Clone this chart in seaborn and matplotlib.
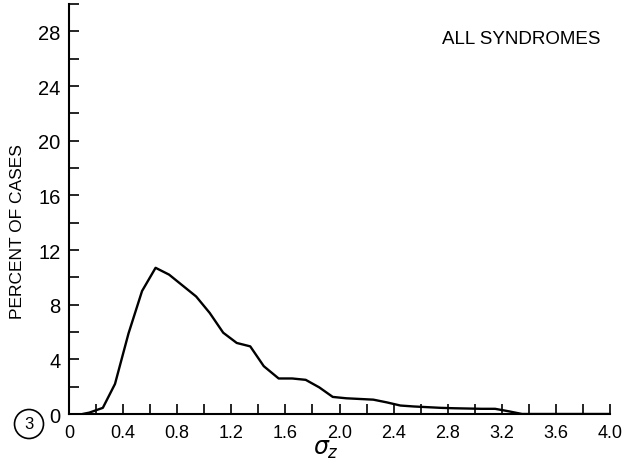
import matplotlib
matplotlib.use("Agg")
import matplotlib.pyplot as plt
import seaborn as sns
import pandas as pd
from matplotlib.ticker import MultipleLocator

sigma_z = [0.10, 0.15, 0.25, 0.34, 0.44, 0.54, 0.64, 0.74, 0.84, 0.94, 1.04, 1.14,
           1.24, 1.34, 1.44, 1.55, 1.65, 1.75, 1.85, 1.95, 2.05, 2.15, 2.25, 2.35,
           2.45, 2.55, 2.65, 2.75, 2.85, 2.95, 3.05, 3.15, 3.25, 3.35, 4.0]
percent = [0.0, 0.1, 0.45, 2.2, 5.9, 9.0, 10.7, 10.2, 9.4, 8.6, 7.4, 5.95,
           5.2, 4.95, 3.5, 2.6, 2.6, 2.5, 1.95, 1.25, 1.15, 1.1, 1.05, 0.85,
           0.62, 0.55, 0.5, 0.45, 0.42, 0.4, 0.38, 0.38, 0.2, 0.0, 0.0]
x_ticks = [0, 0.4, 0.8, 1.2, 1.6, 2.0, 2.4, 2.8, 3.2, 3.6, 4.0]
x_tick_labels = ["0", "0.4", "0.8", "1.2", "1.6", "2.0", "2.4", "2.8", "3.2", "3.6", "4.0"]
y_ticks = [0, 4, 8, 12, 16, 20, 24, 28]
y_tick_labels = ["0", "4", "8", "12", "16", "20", "24", "28"]

sns.set_theme(style="white")
plt.rcParams["font.family"] = ["Liberation Sans", "DejaVu Sans"]
plt.rcParams["text.color"] = "black"
plt.rcParams["axes.labelcolor"] = "black"

df = pd.DataFrame({"sigma_z": sigma_z, "percent": percent})

fig = plt.figure(figsize=(6.24, 4.64), dpi=100)
ax = fig.add_axes([0.1106, 0.1056, 0.867, 0.8834])
sns.lineplot(data=df, x="sigma_z", y="percent", ax=ax, color="black", linewidth=1.7)

ax.set_xlim(0, 4.0)
ax.set_ylim(0, 30)
ax.set_xticks(x_ticks)
ax.set_xticklabels(x_tick_labels, fontsize=13)
ax.set_yticks(y_ticks)
ax.set_yticklabels(y_tick_labels, fontsize=14.5)
ax.xaxis.set_minor_locator(MultipleLocator(0.2))
ax.yaxis.set_minor_locator(MultipleLocator(2))
ax.tick_params(axis="both", which="both", direction="in", length=7, width=1.2,
               color="black", labelcolor="black", bottom=True, left=True)
ax.tick_params(axis="x", which="major", pad=7)
ax.tick_params(axis="y", which="major", pad=6)
for s in ["top", "right"]:
    ax.spines[s].set_visible(False)
for s in ["left", "bottom"]:
    ax.spines[s].set_color("black")
    ax.spines[s].set_linewidth(1.5)

ax.set_xlabel("")
ax.set_ylabel("")
fig.text(326 / 624, 1 - 455 / 464, r"$\sigma_z$", ha="center", va="baseline",
         fontsize=17)
fig.text(18 / 624, 1 - 232 / 464, "PERCENT OF CASES", rotation=90,
         ha="center", va="center", fontsize=12.5)
fig.text(521 / 624, 1 - 40 / 464, "ALL SYNDROMES", ha="center", va="center",
         fontsize=13.5)
fig.text(29 / 624, 1 - 425 / 464, "3", ha="center", va="center", fontsize=12,
         bbox=dict(boxstyle="circle,pad=0.42", fc="white", ec="black", lw=1.2))

fig.savefig("out.png", dpi=100)
